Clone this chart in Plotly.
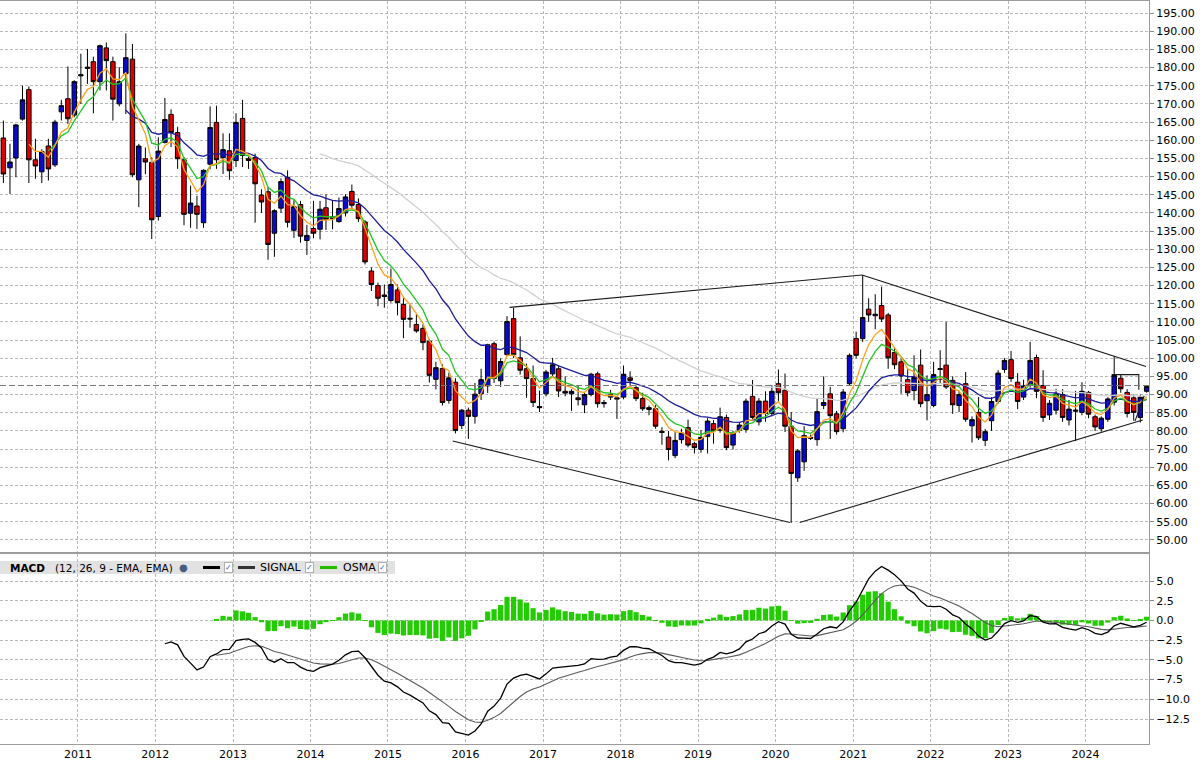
import pandas as pd
import plotly.graph_objects as go

# monthly candles, Jan 2010 .. Oct 2024 (plotted mid-month)
months = pd.date_range("2010-01-01", periods=178, freq="MS") + pd.Timedelta(days=14)

opens = [160.6, 152.4, 155.1, 165.8, 173.9, 154.6, 151.3, 158.4, 153.2, 167.8,
         171.4, 166.9, 177.7, 180.1, 181.6, 176.1, 185.4, 181.6, 170.0, 178.3,
         182.3, 149.1, 154.9, 153.9, 139.0, 159.4, 167.1, 162.1, 154.6, 139.9,
         141.9, 137.3, 153.4, 164.9, 155.2, 157.1, 154.4, 166.0, 154.9, 155.2,
         144.9, 145.8, 134.4, 141.3, 149.8, 135.2, 142.3, 132.4, 135.7, 135.5,
         141.4, 138.9, 137.6, 140.0, 145.9, 142.3, 137.5, 124.0, 120.0, 117.4,
         115.9, 118.8, 114.8, 111.0, 109.3, 108.2, 104.7, 94.2, 97.2, 88.4,
         93.4, 81.5, 85.7, 84.0, 90.2, 92.4, 104.0, 93.8, 101.0, 110.9,
         100.1, 97.1, 94.4, 86.7, 90.2, 95.7, 97.1, 90.9, 90.2, 89.1,
         87.2, 90.0, 95.7, 87.5, 89.3, 89.1, 89.3, 94.6, 91.9, 88.9,
         85.9, 86.1, 79.9, 78.3, 73.2, 77.6, 80.9, 76.5, 74.9, 78.5,
         82.0, 80.2, 83.7, 76.1, 80.2, 80.4, 89.5, 82.5, 88.2, 84.8,
         93.0, 91.2, 81.3, 67.1, 71.5, 78.2, 77.6, 87.0, 90.2, 84.7,
         80.6, 93.0, 105.4, 105.4, 113.5, 111.7, 114.5, 111.9, 101.6, 99.0,
         94.1, 91.1, 98.1, 88.3, 87.0, 96.9, 98.1, 93.9, 87.0, 93.0,
         81.4, 85.1, 77.4, 82.8, 88.1, 96.9, 99.6, 93.4, 89.3, 92.5,
         100.2, 92.5, 84.4, 85.7, 90.0, 83.0, 85.4, 85.1, 90.6, 83.9,
         80.6, 83.2, 87.9, 94.5, 90.6, 89.1, 83.7, 90.9]

highs = [165.4, 159.0, 164.5, 175.0, 174.8, 160.4, 157.5, 160.4, 165.6, 171.1,
         180.3, 176.5, 183.8, 185.1, 183.0, 186.3, 186.9, 183.0, 180.1, 189.4,
         186.5, 159.0, 158.0, 155.3, 160.8, 171.6, 168.5, 163.7, 155.4, 147.5,
         144.7, 152.0, 169.3, 169.5, 161.9, 161.9, 167.4, 171.1, 155.5, 156.3,
         146.5, 147.0, 141.0, 149.5, 151.7, 143.5, 143.3, 136.7, 143.3, 143.3,
         145.1, 143.3, 144.2, 145.1, 147.8, 144.0, 138.0, 125.0, 120.8, 120.3,
         124.7, 120.3, 116.6, 114.8, 112.1, 109.3, 105.2, 99.0, 98.3, 96.0,
         94.5, 86.0, 86.4, 93.2, 97.1, 104.0, 104.6, 100.0, 111.6, 113.9,
         106.0, 98.5, 98.0, 91.1, 96.8, 100.1, 98.0, 95.0, 91.5, 92.5,
         90.5, 96.0, 96.3, 88.5, 91.3, 89.5, 98.0, 96.4, 92.5, 90.5,
         87.0, 87.1, 81.0, 80.0, 79.7, 80.6, 83.1, 77.0, 80.2, 83.5,
         83.0, 86.4, 84.5, 80.0, 82.2, 88.9, 94.0, 89.0, 90.9, 92.6,
         96.9, 95.8, 85.2, 75.0, 81.3, 79.0, 88.8, 95.0, 92.1, 85.5,
         91.5, 101.3, 107.3, 122.9, 116.5, 117.6, 119.7, 112.5, 103.0, 99.9,
         97.0, 100.8, 102.4, 95.3, 99.0, 102.2, 110.0, 95.0, 91.0, 96.2,
         84.0, 89.3, 80.5, 89.3, 96.7, 100.0, 102.0, 95.9, 94.1, 104.5,
         101.0, 96.7, 88.5, 91.6, 91.5, 88.5, 91.0, 93.4, 91.0, 84.5,
         84.0, 89.3, 100.6, 95.5, 91.5, 90.0, 90.0, 92.5]

lows = [148.2, 145.2, 149.8, 165.4, 148.2, 149.4, 148.2, 148.9, 152.6, 165.4,
        164.5, 166.3, 170.0, 175.5, 167.4, 173.7, 173.7, 165.4, 169.3, 167.2,
        149.8, 141.6, 150.7, 132.8, 137.9, 159.1, 158.1, 152.1, 136.6, 135.9,
        135.6, 135.9, 152.0, 152.1, 150.7, 149.1, 152.6, 152.6, 152.1, 137.3,
        140.0, 127.1, 127.9, 140.0, 136.0, 133.1, 131.8, 128.4, 133.0, 132.7,
        135.3, 135.5, 137.3, 139.0, 141.0, 137.5, 125.8, 118.5, 114.3, 113.9,
        115.3, 111.8, 105.5, 108.4, 107.0, 102.2, 93.3, 91.4, 87.0, 87.5,
        79.3, 80.5, 77.8, 82.0, 88.5, 90.4, 93.2, 92.1, 100.5, 100.0,
        95.5, 89.1, 86.6, 85.2, 89.5, 95.0, 89.3, 89.5, 85.5, 87.0,
        84.9, 89.5, 86.4, 86.4, 88.5, 83.3, 88.7, 92.5, 88.2, 85.5,
        84.3, 80.6, 76.2, 71.9, 72.5, 76.5, 75.5, 73.8, 74.0, 73.8,
        76.5, 79.5, 74.7, 74.9, 79.5, 79.5, 83.0, 81.5, 82.5, 84.0,
        88.0, 79.7, 54.7, 66.0, 69.0, 77.5, 75.9, 86.0, 77.8, 79.0,
        79.6, 92.5, 100.0, 104.5, 110.0, 108.0, 110.0, 97.1, 97.0, 90.2,
        89.5, 88.4, 86.5, 82.9, 86.5, 93.0, 91.5, 84.7, 85.2, 82.5,
        76.8, 77.5, 75.8, 80.0, 87.5, 96.0, 93.5, 86.0, 88.5, 91.5,
        89.0, 82.5, 83.0, 84.5, 82.5, 81.5, 77.2, 84.3, 83.5, 80.0,
        79.8, 82.5, 87.0, 90.5, 83.7, 82.8, 82.3, 90.5]

closes = [150.7, 154.0, 164.2, 171.1, 154.6, 152.9, 156.9, 152.1, 165.0, 169.5,
          165.9, 176.1, 178.0, 179.8, 176.1, 186.0, 181.9, 171.3, 176.1, 182.7,
          150.5, 158.4, 154.0, 138.1, 157.0, 165.7, 162.1, 154.9, 139.6, 142.7,
          139.6, 151.7, 163.5, 154.6, 157.4, 151.6, 164.9, 155.8, 154.4, 148.0,
          143.0, 131.3, 140.6, 148.6, 137.4, 141.7, 133.6, 133.8, 134.4, 141.0,
          138.2, 138.4, 141.2, 144.4, 142.1, 138.4, 126.5, 120.3, 116.5, 117.0,
          120.3, 115.3, 110.7, 110.8, 107.5, 104.3, 95.3, 97.4, 87.8, 94.6,
          80.1, 85.7, 84.0, 90.1, 94.1, 103.7, 94.4, 99.1, 110.1, 101.0,
          96.7, 94.4, 87.8, 86.4, 96.2, 98.2, 91.0, 90.4, 90.9, 88.6,
          90.0, 95.6, 87.5, 87.8, 90.0, 88.8, 95.6, 93.9, 88.9, 86.1,
          86.4, 81.3, 79.6, 74.9, 77.4, 79.4, 76.1, 75.4, 78.2, 82.7,
          80.0, 83.9, 75.4, 79.4, 81.6, 88.2, 83.7, 88.2, 84.8, 90.9,
          90.5, 81.3, 68.3, 74.5, 78.7, 78.0, 85.3, 87.8, 84.2, 79.8,
          90.7, 100.8, 100.8, 111.2, 111.9, 112.1, 110.8, 100.1, 98.2, 95.1,
          90.5, 94.7, 87.5, 90.0, 95.5, 97.1, 92.1, 87.2, 90.0, 83.2,
          83.1, 78.1, 79.8, 88.1, 95.9, 99.4, 94.4, 88.1, 92.5, 99.4,
          90.9, 83.7, 87.6, 90.2, 83.7, 86.0, 85.7, 90.9, 84.6, 81.1,
          83.5, 88.8, 95.3, 91.6, 84.8, 85.1, 89.3, 92.2]

# hand-drawn trend lines (date, price) pairs
trend_lines = [
    (["2016-07-27", "2021-02-12"], [114.0, 122.9]),
    (["2021-02-12", "2024-10-12"], [122.9, 97.7]),
    (["2015-11-02", "2020-03-09"], [77.2, 54.8]),
    (["2020-04-24", "2024-09-27"], [54.8, 83.0]),
    (["2024-05-03", "2024-09-08", "2024-09-08"], [95.5, 95.5, 91.3]),
    (["2024-08-21", "2024-10-03"], [82.7, 89.6]),
]
ref_price = 92.5

price_ticks = list(range(50, 200, 5))
macd_ticks = [-12.5, -10.0, -7.5, -5.0, -2.5, 0.0, 2.5, 5.0]

ma_specs = [(50, "#d2d2d2"), (20, "#1c1c9c"), (8, "#22c422"), (5, "#ffa01e")]


def ema(values, n):
    out = [None] * len(values)
    idx = [i for i, v in enumerate(values) if v is not None]
    if len(idx) < n:
        return out
    start = idx[n - 1]
    prev = sum(values[i] for i in idx[:n]) / n
    out[start] = prev
    k = 2.0 / (n + 1)
    for i in range(start + 1, len(values)):
        prev = prev + k * (values[i] - prev)
        out[i] = prev
    return out


ema12 = ema(closes, 12)
ema26 = ema(closes, 26)
macd = [a - b if (a is not None and b is not None) else None for a, b in zip(ema12, ema26)]
signal = ema(macd, 9)
osma = [m - s if (m is not None and s is not None) else None for m, s in zip(macd, signal)]

FONT = "DejaVu Sans"
GRID = "#b8b8b8"
W, H = 1202, 769
L, R, T, B = 0, 53, 1, 25
PW, PH = W - L - R, H - T - B


def px_x(x):
    return (x - L) / PW


def px_y(y):
    return (H - B - y) / PH


fig = go.Figure()

fig.add_trace(go.Candlestick(
    x=months, open=opens, high=highs, low=lows, close=closes,
    increasing=dict(fillcolor="#0a0acc", line=dict(color="#000000", width=1)),
    decreasing=dict(fillcolor="#dc0000", line=dict(color="#000000", width=1)),
    whiskerwidth=0, xaxis="x", yaxis="y", hoverinfo="skip",
))

for n, col in ma_specs:
    fig.add_trace(go.Scatter(x=months, y=ema(closes, n), mode="lines",
                             line=dict(color=col, width=1.3),
                             xaxis="x", yaxis="y", hoverinfo="skip"))

for xs, ys in trend_lines:
    fig.add_trace(go.Scatter(x=xs, y=ys, mode="lines",
                             line=dict(color="#1a1a1a", width=1.1),
                             xaxis="x", yaxis="y", hoverinfo="skip"))

# MACD panel
fig.add_trace(go.Bar(x=months, y=osma, marker=dict(color="#22cc00", line=dict(width=0)),
                     xaxis="x2", yaxis="y2", hoverinfo="skip"))
fig.add_trace(go.Scatter(x=months, y=signal, mode="lines",
                         line=dict(color="#5a5a5a", width=1.1),
                         xaxis="x2", yaxis="y2", hoverinfo="skip"))
fig.add_trace(go.Scatter(x=months, y=macd, mode="lines",
                         line=dict(color="#000000", width=1.3),
                         xaxis="x2", yaxis="y2", hoverinfo="skip"))

x_range = ["2009-12-30", "2024-10-26"]
main_top, main_bot = 1, 552
macd_top, macd_bot = 554, 744

axis_common = dict(showgrid=True, gridcolor=GRID, griddash="3px,2px", gridwidth=1,
                   showline=True, mirror=True, linecolor="#9c9c9c", linewidth=1,
                   zeroline=False)

fig.update_layout(
    width=W, height=H,
    margin=dict(l=L, r=R, t=T, b=B),
    paper_bgcolor="white", plot_bgcolor="white",
    showlegend=False,
    font=dict(family=FONT, size=11, color="#000000"),
    boxgap=0.25, boxgroupgap=0, bargap=0.12,
    xaxis=dict(domain=[0, 1], anchor="y", range=x_range, type="date",
               dtick="M12", tick0="2010-01-01", showticklabels=False,
               rangeslider=dict(visible=False), **axis_common),
    yaxis=dict(domain=[px_y(main_bot), px_y(main_top)], anchor="x", side="right",
               range=[195 - (main_bot - 13) / 3.634, 195 + (13 - main_top) / 3.634],
               tickmode="array", tickvals=price_ticks, tickformat=".2f",
               ticks="outside", ticklen=4, tickcolor="#8a8a8a", **axis_common),
    xaxis2=dict(domain=[0, 1], anchor="y2", range=x_range, type="date",
                dtick="M12", tick0="2010-01-01", tickformat="%Y",
                ticks="", **axis_common),
    yaxis2=dict(domain=[0, px_y(macd_top)], anchor="x2", side="right",
                range=[-12.5 - (macd_bot - 719) / 7.886, 5 + (581 - macd_top) / 7.886],
                tickmode="array", tickvals=macd_ticks, tickformat=".1f",
                ticks="outside", ticklen=4, tickcolor="#8a8a8a", **axis_common),
)

# current price reference line
fig.add_shape(type="line", xref="x", yref="y", x0=x_range[0], x1=x_range[1],
              y0=ref_price, y1=ref_price,
              line=dict(color="#7a7a7a", width=1, dash="6px,3px"))

# MACD header band
band_y0, band_y1 = px_y(574), px_y(561)
fig.add_shape(type="rect", xref="paper", yref="paper", x0=px_x(0), x1=px_x(395),
              y0=band_y0, y1=band_y1, fillcolor="#e2e2e2", line=dict(width=0),
              layer="below")
yc = px_y(567.5)


def label(x, text, size=10.5):
    fig.add_annotation(xref="paper", yref="paper", x=px_x(x), y=yc, text=text,
                       showarrow=False, xanchor="left", yanchor="middle",
                       font=dict(family=FONT, size=size, color="#000000"))


def check(x):
    fig.add_annotation(xref="paper", yref="paper", x=px_x(x), y=yc, text="✓",
                       showarrow=False, xanchor="center", yanchor="middle",
                       font=dict(family=FONT, size=8, color="#1a5fd0"),
                       bgcolor="white", bordercolor="#b0b0b0", borderwidth=1,
                       borderpad=0)


def sample(x0, x1, color):
    fig.add_shape(type="line", xref="paper", yref="paper", x0=px_x(x0), x1=px_x(x1),
                  y0=yc, y1=yc, line=dict(color=color, width=3))


label(8, "<b>MACD</b>")
label(53, "(12, 26, 9 - EMA, EMA)")
fig.add_annotation(xref="paper", yref="paper", x=px_x(183), y=yc, text="●",
                   showarrow=False, xanchor="center", yanchor="middle",
                   font=dict(family=FONT, size=10, color="#44607e"))
sample(203, 220, "#000000")
check(228)
sample(238, 255, "#333333")
label(258, "SIGNAL", size=11)
check(309)
sample(320, 337, "#22bb00")
label(341, "OSMA", size=11)
check(382)

# page without the default body margin so the chart sits at the window origin
fig.write_html("out.html", config={"displayModeBar": False},
               post_script="document.body.style.margin='0';")
